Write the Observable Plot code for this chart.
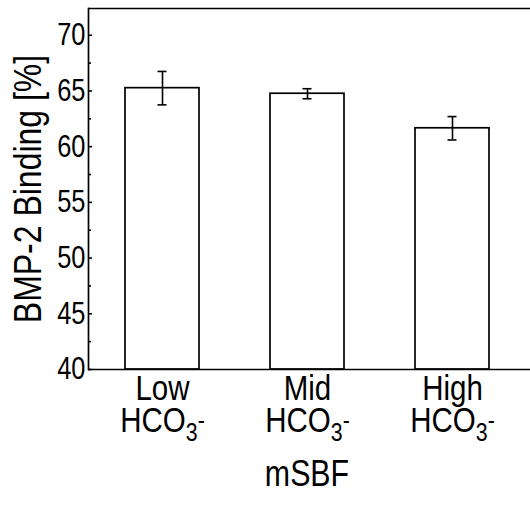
<!DOCTYPE html>
<html>
<head>
<meta charset="utf-8">
<script src="https://cdn.jsdelivr.net/npm/d3@7"></script>
<script src="https://cdn.jsdelivr.net/npm/@observablehq/plot@0.6"></script>
<style>
  html, body { margin: 0; padding: 0; background: #fff; }
  #chart svg { display: block; }
</style>
</head>
<body>
<div id="chart"></div>
<script>
// ---- data ----
const categories = ["Low", "Mid", "High"];
const ionLabel = "HCO3-";
const binding = [65.25, 64.75, 61.65];
const errors = [1.5, 0.45, 1.05];
const yTicks = [40, 45, 50, 55, 60, 65, 70];
const yMinorTicks = [42.5, 47.5, 52.5, 57.5, 62.5, 67.5];
const yDomain = [40, 72.4];
const yLabel = "BMP-2 Binding [%]";
const xLabel = "mSBF";

const rows = categories.map((c, i) => ({cat: c, v: binding[i], lo: binding[i] - errors[i], hi: binding[i] + errors[i]}));

const FONT = "'Liberation Sans Narrow', 'Arial Narrow', 'Liberation Sans', Arial, sans-serif";
const NARROW = 0.82;
const blank = () => "";

const chart = Plot.plot({
  width: 530,
  height: 518,
  marginLeft: 88,
  marginRight: 5,
  marginTop: 8,
  marginBottom: 149,
  style: {fontFamily: FONT, fontSize: "30px", color: "#000", background: "#fff"},
  x: {domain: categories, paddingInner: 0.49, paddingOuter: 0.245, axis: null},
  y: {domain: yDomain, axis: null},
  marks: [
    Plot.barY(rows, {x: "cat", y1: yDomain[0], y2: "v", fill: "white", stroke: "black", strokeWidth: 1.7}),
    Plot.ruleX(rows, {x: "cat", y1: "lo", y2: "hi", stroke: "black", strokeWidth: 1.6}),
    Plot.tickY(rows, {x: "cat", y: "lo", stroke: "black", strokeWidth: 1.6, insetLeft: 32.5, insetRight: 32.5}),
    Plot.tickY(rows, {x: "cat", y: "hi", stroke: "black", strokeWidth: 1.6, insetLeft: 32.5, insetRight: 32.5}),
    Plot.frame({anchor: "left", stroke: "black", strokeWidth: 1.7}),
    Plot.ruleY([yDomain[0], yDomain[1]], {stroke: "black", strokeWidth: 1.7, insetRight: -6}),
    Plot.axisY(yTicks, {anchor: "left", tickSize: -4, tickFormat: blank, label: null, strokeWidth: 1.6}),
    Plot.axisY(yMinorTicks, {anchor: "left", tickSize: -3, tickFormat: blank, label: null, strokeWidth: 1.6}),
    Plot.axisY(yTicks, {anchor: "left", tickSize: 0, tickPadding: 3, fontSize: 31, label: null}),
    Plot.axisY(yTicks, {anchor: "left", tickSize: 0, tickFormat: blank, fontSize: 39, label: yLabel, labelAnchor: "center", labelOffset: 75, labelArrow: "none"}),
    Plot.axisX({anchor: "bottom", tickSize: 0, tickPadding: 5, fontSize: 36, tickFormat: d => d, label: null}),
    Plot.axisX({anchor: "bottom", tickSize: 0, tickFormat: blank, fontSize: 37, label: xLabel, labelAnchor: "center", labelOffset: 116, labelArrow: "none"})
  ]
});

document.getElementById("chart").appendChild(chart);

// rebuild x tick labels as two lines with a subscript 3
const svg = d3.select(chart);
svg.selectAll("g[aria-label='x-axis tick label'] text").each(function() {
  const t = d3.select(this);
  const name = t.text();
  if (!categories.includes(name)) return;
  t.text(null).attr("y", null);
  t.append("tspan").attr("x", 0).attr("dy", "0.71em").text(name);
  const l2 = t.append("tspan").attr("x", 0).attr("dy", "0.9em");
  l2.append("tspan").text(ionLabel.slice(0, 3));
  l2.append("tspan").attr("font-size", "26px").attr("dy", "9").text(ionLabel.slice(3, 4));
  l2.append("tspan").attr("font-size", "26px").attr("dy", "-12").text(ionLabel.slice(4));
});

// condense all text horizontally (narrow sans look of the original)
svg.selectAll("text").each(function() {
  const t = d3.select(this);
  const xs = t.attr("x"), ys = t.attr("y");
  const x = xs != null && !isNaN(+xs) ? +xs : 0;
  const y = ys != null && !isNaN(+ys) ? +ys : 0;
  if (xs != null && !isNaN(+xs)) t.attr("x", null);
  if (ys != null && !isNaN(+ys)) t.attr("y", null);
  const tr = t.attr("transform") || "";
  t.attr("transform", `${tr} translate(${x},${y}) scale(${NARROW},1)`);
});
</script>
</body>
</html>
